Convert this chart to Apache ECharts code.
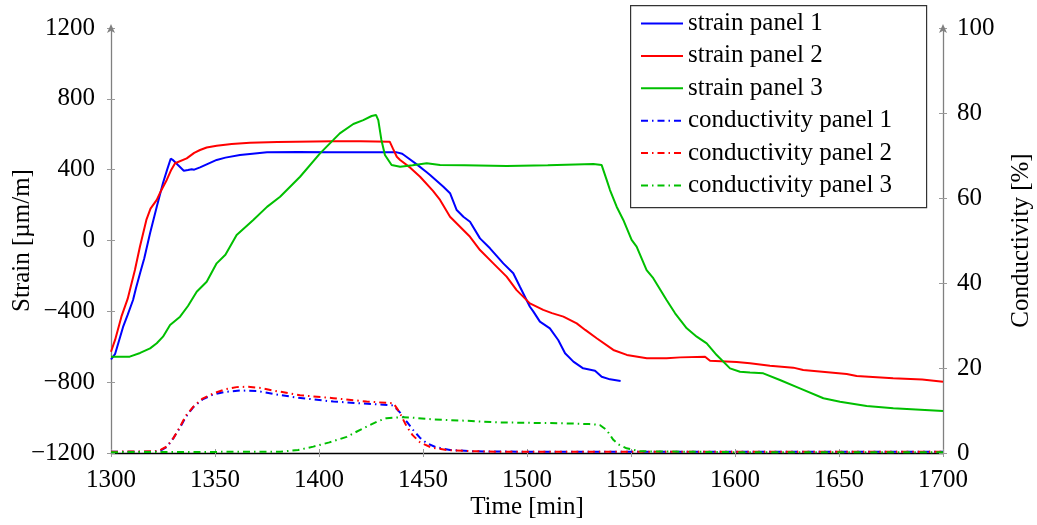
<!DOCTYPE html>
<html>
<head>
<meta charset="utf-8">
<script src="https://cdn.jsdelivr.net/npm/echarts@6/dist/echarts.min.js"></script>
<style>
  html, body { margin: 0; padding: 0; background: #fff; }
  #chart { width: 1037px; height: 525px; }
</style>
</head>
<body>
<div id="chart"></div>
<script>
// Time axis [min] and strain / conductivity readings per panel
const seriesNames = [
  'strain panel 1', 'strain panel 2', 'strain panel 3',
  'conductivity panel 1', 'conductivity panel 2', 'conductivity panel 3'
];

const strainPanel1 = [
  [1300,-672],[1302,-640],[1305.8,-488],[1308,-420],[1310.6,-336],[1312,-270],[1314,-183],[1316,-100],
  [1318.8,42],[1322,191],[1325,325],[1327,400],[1328.7,462],[1330,452],[1332.2,426],[1335,394],
  [1337,398],[1338.8,402],[1340,400],[1342.8,413],[1346,430],[1350.8,455],[1355,468],[1362,483],
  [1368,490],[1375,498],[1390,500],[1405,498],[1420,499],[1437,499],[1440,490],[1442,473],
  [1447,430],[1451.8,385],[1453.4,370],[1459.8,304],[1463,267],[1466.2,172],[1469.4,134],[1472.6,106],
  [1477.4,12],[1482.2,-44],[1488.6,-129],[1493.4,-185],[1496.6,-261],[1501.4,-374],[1503,-400],
  [1506.2,-458],[1511,-496],[1515,-562],[1518.3,-637],[1522.3,-684],[1527,-722],[1532.7,-735],
  [1535.9,-769],[1539.9,-784],[1545,-793]
];

const strainPanel2 = [
  [1300,-628],[1302,-560],[1305,-430],[1308,-330],[1311.5,-167],[1313.9,-35],[1317,116],[1319,180],
  [1322,229],[1324,280],[1326.8,342],[1329,400],[1330.8,436],[1336.4,464],[1340,495],[1342.8,511],
  [1346,525],[1350.8,535],[1358,545],[1366.8,552],[1380,556],[1406.7,560],[1420,560],[1434,558],
  [1435.5,520],[1437.4,473],[1439,455],[1444,410],[1448.6,360],[1454.8,280],[1458.2,229],[1463,134],
  [1467.8,78],[1472.6,21],[1477.4,-54],[1483.8,-129],[1490.2,-204],[1495,-280],[1501.4,-355],
  [1507.8,-392],[1512,-410],[1517.5,-430],[1523.9,-468],[1528,-505],[1533.5,-552],[1541.5,-618],
  [1548,-646],[1557.6,-665],[1567.1,-665],[1573.6,-660],[1585.6,-656],[1588,-679],[1600.8,-686],
  [1607.2,-693],[1616.8,-707],[1628,-718],[1632.8,-731],[1653.7,-754],[1658.5,-765],[1676,-778],
  [1690,-785],[1700,-797]
];

const strainPanel3 = [
  [1300,-656],[1309,-656],[1314,-635],[1318.8,-609],[1322,-580],[1325,-543],[1328.4,-477],[1333.2,-430],
  [1337,-370],[1341.2,-289],[1346,-233],[1350.8,-129],[1355,-80],[1360.4,31],[1368.4,116],[1375,190],
  [1381.3,247],[1390.9,360],[1400.5,492],[1406.9,568],[1410,605],[1416.5,658],[1421.3,680],[1425.3,703],
  [1427.4,709],[1428.5,680],[1430,568],[1431.7,483],[1434.9,426],[1439,417],[1445,425],[1451.8,436],
  [1458.2,426],[1470,425],[1490.2,421],[1510,425],[1531.9,432],[1535.9,426],[1538.3,342],[1539.9,285],
  [1543.1,191],[1546.3,116],[1550.3,3],[1552.7,-35],[1557.5,-167],[1560.7,-213],[1567.1,-336],
  [1571.2,-411],[1576.8,-496],[1581.6,-543],[1586.4,-581],[1591.2,-647],[1597.6,-722],[1602.4,-741],
  [1607.2,-745],[1613.6,-750],[1621.6,-788],[1631.2,-835],[1642.5,-891],[1650.5,-910],[1663.3,-935],
  [1676.1,-947],[1700,-963]
];

const conductivityPanel1 = [
  [1300,0.3],[1320,0.3],[1324,0.6],[1327,1.5],[1330,3.5],[1333.2,6],[1336,8.5],[1339.6,10.8],
  [1344,12.6],[1349.2,13.8],[1355,14.4],[1362,14.7],[1370,14.6],[1378,13.9],[1390,13],[1406.9,12.1],
  [1420,11.7],[1435.7,11.2],[1439,9.5],[1442,7.5],[1445.3,5.4],[1448.5,3.6],[1451.8,2.3],[1456,1.4],
  [1463,0.7],[1475,0.4],[1500,0.3],[1700,0.3]
];

const conductivityPanel2 = [
  [1300,0.3],[1322,0.4],[1324,0.8],[1326.8,1.5],[1330,3.5],[1333.2,6.2],[1336,8.8],[1339.6,10.9],
  [1344,12.8],[1349.2,14],[1355,15],[1360.4,15.5],[1366,15.6],[1372,15.3],[1378,14.7],[1390.9,13.6],
  [1406.9,12.9],[1422.9,12.1],[1435.7,11.7],[1437.5,10.5],[1439,9.3],[1442.2,6.2],[1445,4.2],
  [1448.6,2.5],[1454,1.3],[1461.4,0.7],[1475,0.4],[1487,0.3],[1700,0.3]
];

const conductivityPanel3 = [
  [1300,0.2],[1381.3,0.3],[1390,0.7],[1397.3,1.5],[1405,2.5],[1413.3,3.8],[1418,5],[1422.9,6.2],
  [1428,7.4],[1432.5,8.2],[1439,8.4],[1445,8.3],[1455,7.9],[1470,7.6],[1487,7.2],[1500,7.1],
  [1516.6,7.0],[1530,6.8],[1535,6.6],[1538.3,5.4],[1541.5,3.1],[1544,2],[1547.9,1.1],[1554.3,0.4],
  [1600,0.2],[1700,0.2]
];

const timeTicks = { min: 1300, max: 1700, step: 50 };
const strainTicks = { min: -1200, max: 1200, step: 400 };
const conductivityTicks = { min: 0, max: 100, step: 20 };

const FONT = "'Liberation Serif', 'DejaVu Serif', serif";
const AXIS_GREY = '#808080';
const TICK_GREY = '#9a9a9a';
const COLORS = ['#0000ff', '#ff0000', '#00bf00'];
const DASH_DOT = [7, 4, 1.5, 4];

const fmt = v => (v < 0 ? '\u2212' + Math.abs(v) : String(v));
const labelStyle = { fontFamily: FONT, fontSize: 25, color: '#000' };
const nameStyle = { fontFamily: FONT, fontSize: 25, color: '#000' };

function tickOnlyAxis(base, position) {
  return Object.assign({}, base, {
    position,
    axisLine: { show: false, onZero: false },
    axisTick: { show: true, inside: true, length: 4, lineStyle: { color: TICK_GREY, width: 1 } },
    axisLabel: { show: false },
    splitLine: { show: false },
    name: ''
  });
}

const xBase = { type: 'value', min: timeTicks.min, max: timeTicks.max, interval: timeTicks.step };
const yStrainBase = { type: 'value', min: strainTicks.min, max: strainTicks.max, interval: strainTicks.step };
const yCondBase = { type: 'value', min: conductivityTicks.min, max: conductivityTicks.max, interval: conductivityTicks.step };

function strainSeries(name, data, color) {
  return {
    name, type: 'line', data, xAxisIndex: 0, yAxisIndex: 0,
    symbol: 'none', smooth: false, animation: false,
    lineStyle: { color, width: 2 }, itemStyle: { color }
  };
}
function condSeries(name, data, color) {
  return {
    name, type: 'line', data, xAxisIndex: 0, yAxisIndex: 1,
    symbol: 'none', smooth: false, animation: false,
    lineStyle: { color, width: 2, type: DASH_DOT }, itemStyle: { color }
  };
}

const chart = echarts.init(document.getElementById('chart'), null, { renderer: 'canvas' });

chart.setOption({
  backgroundColor: '#fff',
  animation: false,
  grid: { left: 111, right: 94, top: 28, bottom: 72, containLabel: false, outerBoundsMode: 'none' },
  xAxis: [
    Object.assign({}, xBase, {
      position: 'bottom',
      name: 'Time [min]', nameLocation: 'middle', nameGap: 42, nameMoveOverlap: false,
      nameTextStyle: nameStyle,
      axisLine: { show: true, onZero: false, lineStyle: { color: '#000', width: 1.3 } },
      axisTick: { show: true, inside: false, length: 4, lineStyle: { color: TICK_GREY, width: 1 } },
      axisLabel: Object.assign({ margin: 15, formatter: fmt }, labelStyle),
      splitLine: { show: false }
    }),
    tickOnlyAxis(xBase, 'bottom')
  ],
  yAxis: [
    Object.assign({}, yStrainBase, {
      position: 'left',
      name: 'Strain [\u00b5m/m]', nameLocation: 'middle', nameGap: 76, nameRotate: 90,
      nameMoveOverlap: false, nameTextStyle: nameStyle,
      axisLine: { show: true, onZero: false, symbol: ['none', 'arrow'], symbolSize: [6, 9],
                  symbolOffset: [0, 4], lineStyle: { color: AXIS_GREY, width: 1.3 } },
      axisTick: { show: true, inside: false, length: 4, lineStyle: { color: TICK_GREY, width: 1 } },
      axisLabel: Object.assign({ margin: 16, formatter: fmt }, labelStyle),
      splitLine: { show: false }
    }),
    Object.assign({}, yCondBase, {
      position: 'right',
      name: 'Conductivity [%]', nameLocation: 'middle', nameGap: 66, nameRotate: 90,
      nameMoveOverlap: false, nameTextStyle: nameStyle,
      axisLine: { show: true, onZero: false, symbol: ['none', 'arrow'], symbolSize: [6, 9],
                  symbolOffset: [0, 4], lineStyle: { color: AXIS_GREY, width: 1.3 } },
      axisTick: { show: true, inside: false, length: 4, lineStyle: { color: TICK_GREY, width: 1 } },
      axisLabel: Object.assign({ margin: 14, formatter: fmt }, labelStyle),
      splitLine: { show: false }
    }),
    tickOnlyAxis(yStrainBase, 'left'),
    tickOnlyAxis(yCondBase, 'right')
  ],
  legend: {
    orient: 'vertical',
    left: 640, top: 11,
    padding: 0,
    itemWidth: 42, itemHeight: 14, itemGap: 7.4,
    data: seriesNames,
    selectedMode: false,
    itemStyle: { opacity: 0 },
    textStyle: { fontFamily: FONT, fontSize: 25, lineHeight: 25, color: '#000' },
    z: 10
  },
  graphic: [{
    type: 'rect', left: 630, top: 5, z: 9,
    shape: { width: 296, height: 202 },
    style: { fill: '#fff', stroke: '#333', lineWidth: 1.2 }
  }],
  series: [
    strainSeries(seriesNames[0], strainPanel1, COLORS[0]),
    strainSeries(seriesNames[1], strainPanel2, COLORS[1]),
    strainSeries(seriesNames[2], strainPanel3, COLORS[2]),
    condSeries(seriesNames[3], conductivityPanel1, COLORS[0]),
    condSeries(seriesNames[4], conductivityPanel2, COLORS[1]),
    condSeries(seriesNames[5], conductivityPanel3, COLORS[2])
  ]
});
</script>
</body>
</html>
